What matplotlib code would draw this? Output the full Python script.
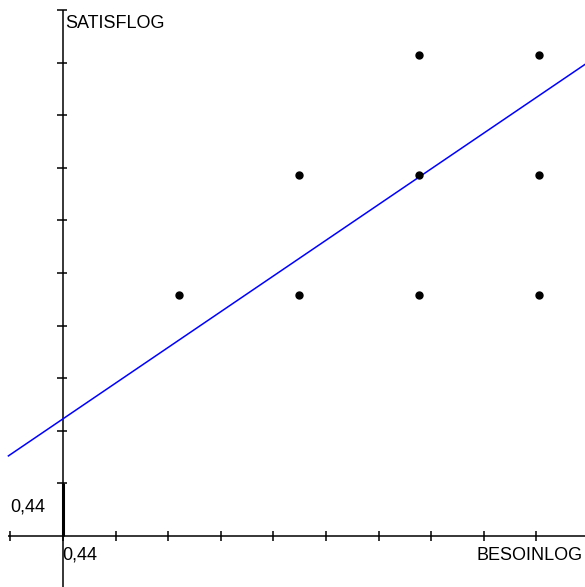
import matplotlib
matplotlib.use("Agg")
import matplotlib.pyplot as plt
import numpy as np

plt.rcParams['font.family'] = ['Liberation Sans', 'DejaVu Sans']

# Observations (log scale values)
besoin = [0.66, 0.889, 0.889, 1.117, 1.117, 1.117, 1.345, 1.345, 1.345]
satisf = [0.898, 1.126, 0.898, 1.354, 1.126, 0.898, 1.354, 1.126, 0.898]

# Fitted line: SATISFLOG = a + b * BESOINLOG
fit_a = 0.364
fit_b = 0.679

origin = 0.44
tick_step = 0.1
x_ticks = origin + tick_step * np.arange(-1, 10)
y_ticks = origin + tick_step * np.arange(1, 11)
origin_label = "0,44"
x_name = "BESOINLOG"
y_name = "SATISFLOG"

W, H, DPI = 585, 587, 100
ppu = 526.0  # pixels per data unit
fig = plt.figure(figsize=(W / DPI, H / DPI), dpi=DPI)
ax = fig.add_axes([0, 0, 1, 1])
ax.set_axis_off()
x0 = origin - 63 / ppu
x1 = origin + (W - 63) / ppu
y0 = origin - 51 / ppu
y1 = origin + 536 / ppu
ax.set_xlim(x0, x1)
ax.set_ylim(y0, y1)

px = 1 / ppu
axis_kw = dict(color='black', lw=1.1, solid_capstyle='butt', zorder=2)

# Horizontal axis with ticks
ax.plot([x_ticks[0] - 2 * px, x1], [origin, origin], **axis_kw)
for t in x_ticks:
    ax.plot([t, t], [origin - 5 * px, origin + 5.5 * px], **axis_kw)

# Vertical axis with ticks
ax.plot([origin, origin], [y0, y_ticks[-1]], **axis_kw)
for t in y_ticks:
    ax.plot([origin - 6 * px, origin + 4 * px], [t, t], **axis_kw)
ax.plot([origin, origin], [origin, origin + tick_step], color='black', lw=2.2,
        solid_capstyle='butt', zorder=2)

# Regression line across the full horizontal axis
xs = np.array([x_ticks[0] - 2 * px, x1])
ax.plot(xs, fit_a + fit_b * xs, color='#0000ff', lw=1.1, zorder=3)

# Scatter points
ax.plot(besoin, satisf, 'o', color='black', ms=5, zorder=4)

fs = 13
ax.text(origin + 2.5 * px, y_ticks[-1] - 18 * px, y_name, fontsize=fs,
        ha='left', va='baseline')
ax.text(origin - 53 * px, origin + 24 * px, origin_label, fontsize=fs,
        ha='left', va='baseline')
ax.text(origin - 1 * px, origin - 24 * px, origin_label, fontsize=fs,
        ha='left', va='baseline')
ax.text(origin + 413.5 * px, origin - 24 * px, x_name, fontsize=fs,
        ha='left', va='baseline')

fig.savefig("out.png", dpi=DPI)
